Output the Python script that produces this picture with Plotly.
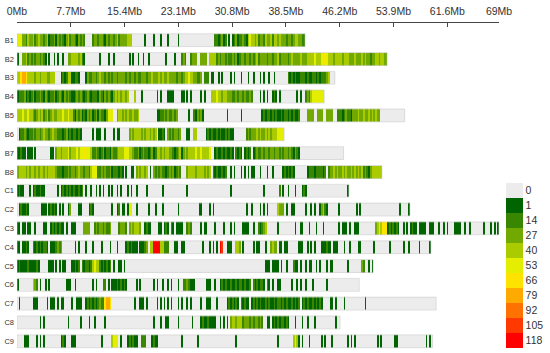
import numpy as np
import plotly.graph_objects as go

# ---------------- data ----------------
BIN_MB = 0.25  # each character below = one 0.25 Mb window, groups of 4 = 1 Mb
chromosomes = ["B1", "B2", "B3", "B4", "B5", "B6", "B7", "B8",
               "C1", "C2", "C3", "C4", "C5", "C6", "C7", "C8", "C9"]
legend_labels = ["0", "1", "14", "27", "40", "53", "66", "79", "92", "105", "118"]
class_colors = ["#ececec", "#006400", "#398600", "#71a900", "#aacb00", "#e3ee00",
                "#ffe300", "#ffaa00", "#ff7100", "#ff3900", "#ff0000"]
axis_ticks_mb = [0, 7.7, 15.4, 23.1, 30.8, 38.5, 46.2, 53.9, 61.6, 69]
axis_tick_text = ["0Mb", "7.7Mb", "15.4Mb", "23.1Mb", "30.8Mb", "38.5Mb",
                  "46.2Mb", "53.9Mb", "61.6Mb", "69Mb"]

# density class per window (0 = none, 1 = 1-13, 2 = 14-26, ... a = 118+)
B1 = ("5553 3243 3423 4332 3412 2313 2321 3423 3213 2320 0002 3323 3213 2332 3423 3334 "
      "4400 0000 0100 0010 0010 0010 0000 1000 0000 0000 0000 0000 0221 2312 0101 2312 "
      "2321 4544 3423 3243 3424 4343 3323 3234 4332 2")
B2 = ("1003 3423 2323 3232 1010 0101 0010 0334 4443 4210 0000 0001 0000 1001 0000 0000 "
      "1010 0100 1001 0000 0000 0100 0010 0023 2002 3330 0333 3044 4423 2332 3223 2312 "
      "3323 3232 3423 3332 3323 3423 3332 3433 3343 3344 4454 4455 6544 4344 4434 4433 "
      "3433 3434 3323 3443 4433")
B3 = ("4467 7644 4434 4344 4334 4400 0121 2441 1221 0001 3223 3234 3323 2323 3233 3323 "
      "2332 3223 3323 3433 3434 3343 3332 3323 4454 4332 2302 2201 1001 0100 0010 1000 "
      "1000 1001 0001 0100 1001 0000 0002 1212 1122 2121 1221 2122 2340 00")
B4 = ("1222 3121 2312 2321 3212 2312 3213 2321 1232 3212 3212 2213 2132 3213 4343 4434 "
      "0004 0001 0000 0000 1010 0011 1100 0011 0101 0000 0101 0004 4454 4344 3332 2323 "
      "3232 2320 0001 0101 0012 1010 0000 0000 1010 0232 4555 5555")
B5 = ("4445 4454 4323 4342 3423 4334 4454 4544 2132 3121 3231 2313 2213 5550 0344 3434 "
      "3343 3400 0000 0000 1122 3232 2323 0000 0010 0213 2310 0000 0000 0000 1000 0000 "
      "1000 0000 0000 1212 2121 2112 1221 2121 1200 0033 3300 3330 0333 3002 2212 3221 "
      "3334 3343 3434 3433 0000 0000 0000 00")
B6 = ("0122 3212 2323 3234 3323 4332 2212 3121 2212 1000 0001 0111 0010 0001 0110 0000 "
      "3434 4443 4344 3434 0112 1032 3233 2300 0110 0440 0000 1212 1121 2112 1211 0000 "
      "0002 3233 3434 3343 4344 4555 5")
B7 = ("1121 1011 1010 0000 0001 1034 4344 4534 4454 5565 5542 2321 2312 2132 2344 4555 "
      "4432 2312 3221 2312 4434 3443 3212 3413 4344 4454 4544 4450 0121 1212 1121 0212 "
      "1012 1201 2322 3233 2332 3323 2332 3213 2100 0000 0000 0000 0000 0000 000")
B8 = ("3444 4343 4434 3443 4344 4432 2212 2323 3234 3323 3245 5522 3232 2312 2212 1010 "
      "0110 3434 4340 1032 3232 2123 2312 3200 0344 4434 4443 4340 2121 1212 0010 1000 "
      "1010 1011 0001 0001 0010 0000 1212 1210 0000 0012 2212 2221 2023 3434 3343 4334 "
      "3434 3423 2134 4444 4")
C1 = ("1211 0001 0121 1211 0000 0001 0121 2121 2112 1201 0010 0101 0100 1010 0101 0001 "
      "0100 1000 0010 0000 0001 0000 0000 0000 0100 0000 0000 0000 0000 0000 0010 0000 "
      "0000 0000 0000 0100 0000 0020 1001 0001 0001 2100 0000 0000 0000 0000 0000 01")
C2 = ("0121 1210 0000 0011 1012 1210 1010 0130 0001 1000 0121 0000 0000 0010 0120 1101 "
      "5500 1000 0001 0001 0001 0000 0000 1000 0000 0000 1100 0010 1000 0000 0000 0000 "
      "0001 0010 0001 0101 0000 0433 3010 0110 0000 0100 1010 0134 2100 0000 1000 0000 "
      "0010 1000 0000 0000 0000 0000 0001 0000 1")
C3 = ("1101 1011 0010 0001 1001 2121 2110 1001 1100 0033 3300 2323 3232 2300 0023 3320 "
      "3434 4430 0121 1000 0110 1210 2101 1110 0232 0000 0101 1000 0100 0010 0010 1000 "
      "0111 1001 0021 2340 0000 0100 0000 0001 0011 0001 0001 0001 0000 0000 1011 1010 "
      "0111 0000 0000 0345 4666 1212 1210 0101 0121 1011 1100 1110 0100 1010 0011 1100 "
      "1001 0000 0001 0001 0101")
C4 = ("1101 1210 0212 1212 2101 1123 2300 0000 0101 0001 0001 0000 1000 0100 0100 0012 "
      "1211 1011 1230 44aa aa44 2220 0011 0011 0000 0000 0010 0010 1010 a900 1110 0443 "
      "0100 0001 0110 0010 0343 3011 0110 0000 0111 0010 1010 0011 1211 0111 0001 0010 "
      "0001 1000 0000 1000 0000 0100 0000 0100 1000 0010 0000 1")
C5 = ("1211 1121 1112 1000 0011 1010 1011 0001 1212 0212 2124 5442 1212 1201 0011 0100 "
      "0000 0000 0000 0000 0000 0000 0000 0000 0000 0000 0000 0000 0000 0000 0000 0000 "
      "0000 0000 0000 0011 1011 1101 0010 0021 1010 0101 1001 0100 0101 1000 0000 0100 "
      "0000 0320 0101")
C6 = ("1000 0000 0432 0100 1010 0000 0000 1110 0100 0000 0001 0100 0220 1011 1212 1210 "
      "0000 1010 0000 0010 1001 0010 1000 1002 2321 1100 0000 1110 0100 1212 1121 1212 "
      "2121 1202 1212 2102 1010 0110 0000 0100 1010 0100 0100 0000 0100 0000 0000 0000 "
      "0000")
C7 = ("0100 0000 0111 0000 0101 1101 0110 0001 0011 1001 2121 2123 2267 7600 0000 0000 "
      "0001 0011 1010 0000 1010 1010 1000 1010 0101 0000 0100 1110 0010 0000 1212 1210 "
      "2121 1012 1212 1121 2112 1221 2121 1212 1201 2121 1212 1210 0001 1010 0001 0000 "
      "0000 0001 0000 0000 0000 0000 0000 0000 0000 0000 0000 0000")
C8 = ("0000 0000 0000 0101 0000 0000 0000 0100 0000 1000 0100 1000 0010 0000 0000 0000 "
      "0000 0000 0000 0010 0010 0110 0000 1000 0000 1000 0121 1211 1100 1010 1034 4344 "
      "4233 3232 3323 2001 1012 1212 2121 0001 0001 0010 0010 0000 0000 0010 0")
C9 = ("0000 1110 0001 0101 0000 0000 0121 0001 1100 0000 0000 0000 1000 0045 5501 0001 "
      "2121 1002 2200 0121 1000 0000 0000 0010 0000 0001 0000 0000 0000 0000 0000 0100 "
      "0000 0000 0000 0000 0000 0100 0000 0045 4101 0001 0000 0010 1000 1000 0000 0101 "
      "0100 0000 0000 0010 1000 0000 1100 0000 0000 0000 0010 10")

density_strings = [B1, B2, B3, B4, B5, B6, B7, B8, C1, C2, C3, C4, C5, C6, C7, C8, C9]

# ---------------- build ----------------
classes = [[int(ch, 16) for ch in s.replace(" ", "")] for s in density_strings]
nbins = max(len(c) for c in classes)
n_chr = len(chromosomes)
z = np.full((n_chr, nbins), np.nan)
for i, c in enumerate(classes):
    z[i, :len(c)] = [10 - v for v in c]   # reversed so the colour bar reads 0 at top
x_centers = (np.arange(nbins) + 0.5) * BIN_MB
lengths = [len(c) * BIN_MB for c in classes]
rows = list(range(n_chr))

ncls = len(class_colors)
colorscale = []
for j in range(ncls):
    col = class_colors[ncls - 1 - j]
    colorscale.append([j / ncls, col])
    colorscale.append([(j + 1) / ncls, col])

FONT = "Liberation Sans, Arial, sans-serif"
L, R, T, B = 17, 51, 23, 3
PW, PH = 550 - L - R, 353 - T - B

fig = go.Figure()
fig.add_trace(go.Heatmap(
    x=x_centers, y=rows, z=z,
    colorscale=colorscale, zmin=-0.5, zmax=ncls - 0.5,
    ygap=6, hoverongaps=False, hoverinfo="skip",
    colorbar=dict(
        tickvals=[ncls - 1 - i for i in range(ncls)], ticktext=legend_labels,
        thickness=17, lenmode="pixels", len=165,
        x=(506 - L) / PW, xanchor="left", xpad=0,
        y=(353 - B - 183.3) / PH, yanchor="top", ypad=0,
        outlinewidth=0, ticks="",
        tickfont=dict(family=FONT, size=10.5, color="#333333"),
    ),
))
fig.add_trace(go.Bar(
    orientation="h", y=rows, x=lengths, base=0, width=0.68,
    marker=dict(color="rgba(0,0,0,0)", line=dict(color="#cccccc", width=0.6)),
    hoverinfo="skip", cliponaxis=False, showlegend=False,
))

fig.update_layout(
    width=550, height=353,
    margin=dict(l=L, r=R, t=T, b=B, autoexpand=False),
    plot_bgcolor="white", paper_bgcolor="white",
    showlegend=False,
    font=dict(family=FONT, color="#333333"),
    xaxis=dict(
        side="top", range=[0, 69], automargin=False,
        tickvals=axis_ticks_mb, ticktext=axis_tick_text,
        ticks="inside", ticklen=4, tickcolor="#444444",
        showline=True, linecolor="#444444", linewidth=1,
        showgrid=False, zeroline=False, ticklabelstandoff=3,
        tickfont=dict(family=FONT, size=10.5, color="#333333"),
    ),
    yaxis=dict(
        range=[16.461, -0.914], automargin=False,
        tickvals=rows, ticktext=chromosomes,
        showgrid=False, zeroline=False, showline=False, ticks="",
        ticklabelstandoff=2,
        tickfont=dict(family=FONT, size=7.5, color="#333333"),
    ),
)

fig.write_html("out.html", config={"displayModeBar": False},
               post_script="document.body.style.margin='0px';")
